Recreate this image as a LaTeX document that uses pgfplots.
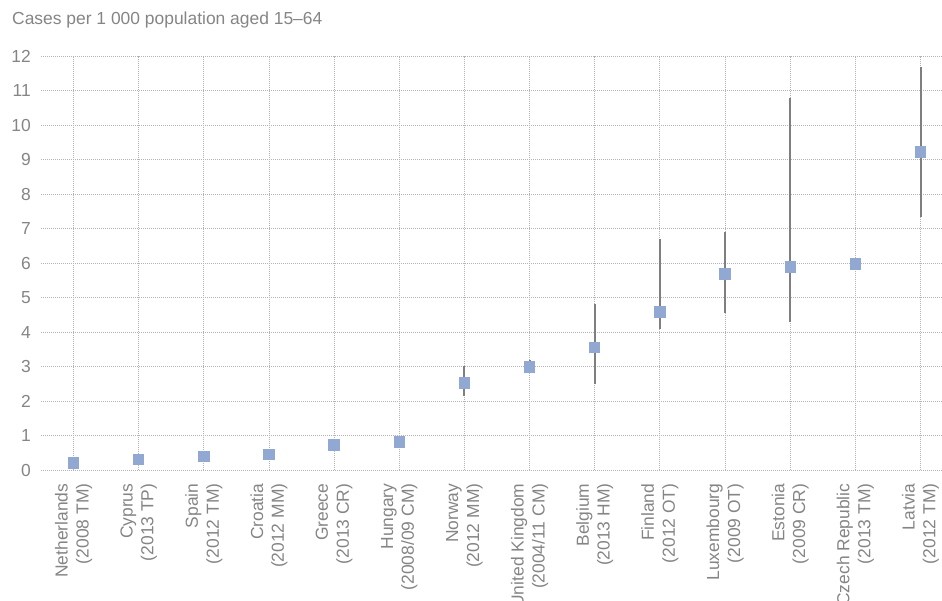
\documentclass[border=0pt]{standalone}
\usepackage{fontspec}
\setmainfont{Liberation Sans}
\usepackage{pgfplots}
\pgfplotsset{compat=1.18}
\usepackage{pgfplotstable}

\definecolor{markblue}{HTML}{91A9D2}
\definecolor{errgray}{HTML}{7F7F7F}
\definecolor{txtgray}{HTML}{858585}
\definecolor{gridgray}{HTML}{B4B4B4}

% index, value, error plus, error minus
\pgfplotstableread{
x  y     ep    em
0  0.22  0     0
1  0.31  0     0
2  0.40  0     0
3  0.46  0     0
4  0.74  0     0
5  0.82  0     0
6  2.53  0.49  0.37
7  3.00  0.20  0.08
8  3.56  1.25  1.05
9  4.59  2.11  0.50
10 5.69  1.21  1.14
11 5.89  4.89  1.60
12 5.98  0     0
13 9.22  2.45  1.87
}\cases

\begin{document}
\begin{tikzpicture}
\begin{axis}[
  scale only axis,
  width = 901bp,
  height = 414.4bp,
  xmin = -0.5, xmax = 13.33,
  ymin = 0, ymax = 12,
  ytick distance = 1,
  xtick = {0,...,13},
  xticklabels = {
    {Netherlands\\(2008 TM)},
    {Cyprus\\(2013 TP)},
    {Spain\\(2012 TM)},
    {Croatia\\(2012 MM)},
    {Greece\\(2013 CR)},
    {Hungary\\(2008/09 CM)},
    {Norway\\(2012 MM)},
    {United Kingdom\\(2004/11 CM)},
    {Belgium\\(2013 HM)},
    {Finland\\(2012 OT)},
    {Luxembourg\\(2009 OT)},
    {Estonia\\(2009 CR)},
    {Czech Republic\\(2013 TM)},
    {Latvia\\(2012 TM)}
  },
  grid = major,
  major grid style = {dash pattern = on 1bp off 1bp, line width = 0.9bp, color = gridgray},
  axis line style = {draw = none},
  major tick length = 0pt,
  /pgf/number format/assume math mode = true,
  ticklabel style = {font = \fontsize{17.5}{21}\selectfont, text = txtgray},
  yticklabel style = {inner sep = 0pt, xshift = -10bp},
  xticklabel style = {yshift = -13bp, rotate = 90, anchor = east, align = right, inner sep = 0pt},
]
  % whiskers first, squares on top
  \addplot[draw = none, mark = none,
    error bars/.cd, y dir = both, y explicit, error mark = none,
    error bar style = {line width = 2bp, color = errgray, line cap = butt}]
    table[x = x, y = y, y error plus = ep, y error minus = em] {\cases};
  \addplot[only marks, mark = square*, mark size = 5.2bp,
    mark options = {fill = markblue, draw = markblue, line width = 0pt}]
    table[x = x, y = y] {\cases};
\end{axis}
\node[anchor = west, inner sep = 0pt, text = txtgray, font = \fontsize{17.5}{20}\selectfont]
  at ([xshift = -29bp, yshift = 36bp]current axis.north west) {Cases per 1 000 population aged 15–64};
\pgfresetboundingbox
\path[use as bounding box] ([xshift = -41bp, yshift = -130.6bp]current axis.south west)
  rectangle ([yshift = 56bp]current axis.north east);
\end{tikzpicture}
\end{document}
